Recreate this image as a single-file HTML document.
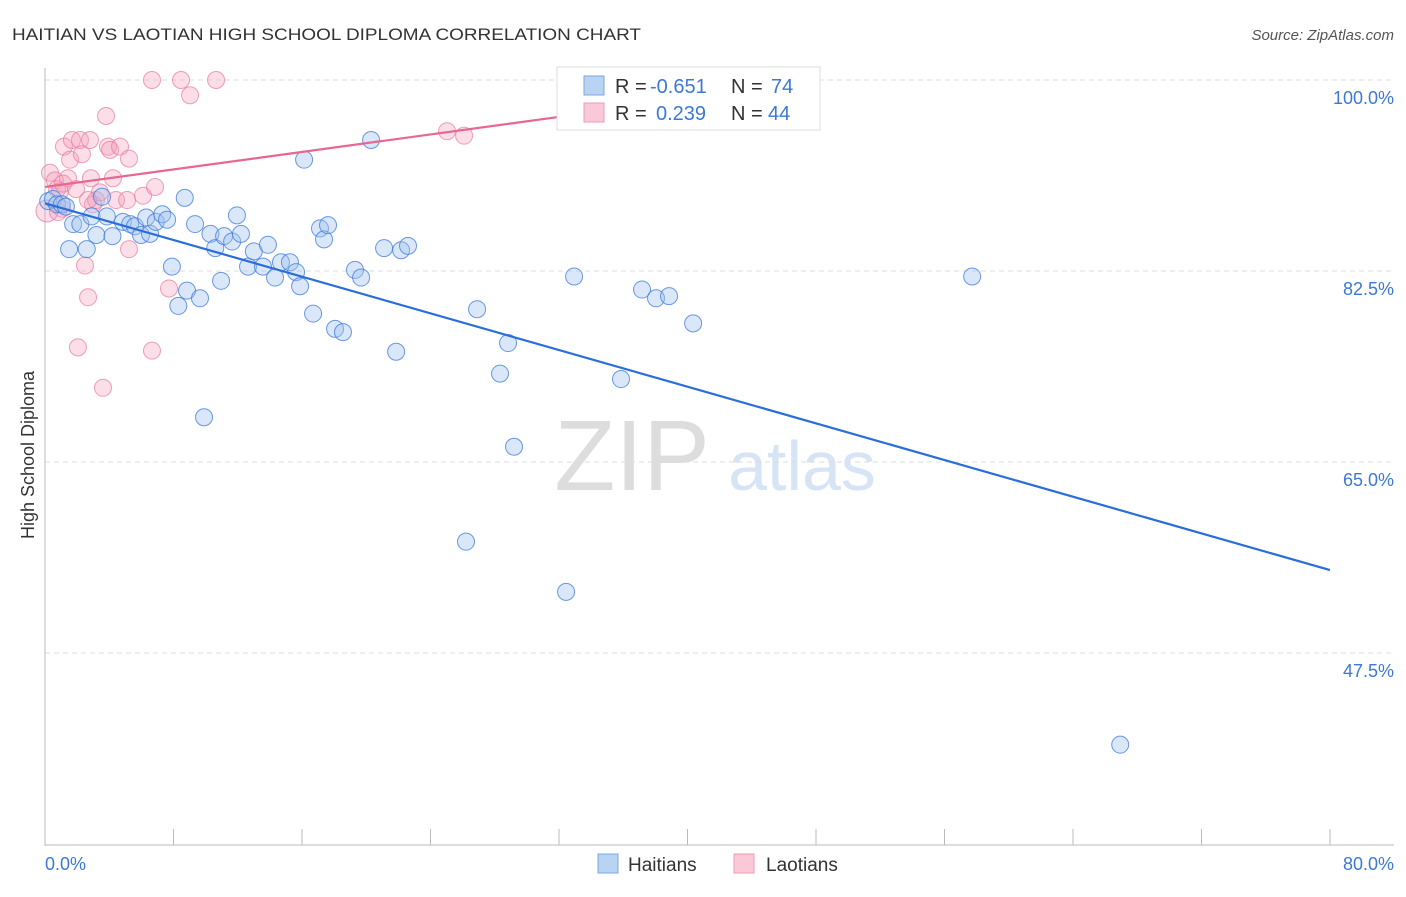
<!DOCTYPE html>
<html><head><meta charset="utf-8"><style>
body{margin:0;background:#fff;font-family:"Liberation Sans",sans-serif}
svg text{font-family:"Liberation Sans",sans-serif}
</style></head><body>
<svg id="chart" width="1406" height="892">
<text x="12" y="40" font-size="17" fill="#333" textLength="629" lengthAdjust="spacingAndGlyphs">HAITIAN VS LAOTIAN HIGH SCHOOL DIPLOMA CORRELATION CHART</text>
<text x="1394" y="40" font-size="15" fill="#555" font-style="italic" text-anchor="end">Source: ZipAtlas.com</text>
<text x="632" y="490" font-size="100" fill="#ddd" font-family="Liberation Serif" text-anchor="middle">ZIP</text>
<text x="802" y="490" font-size="70" fill="#d6e4f5" text-anchor="middle">atlas</text>
<g id="grid"></g><g id="axes"></g><g id="pts"></g><g id="lines"></g>
<text transform="translate(34,455) rotate(-90)" font-size="18" fill="#333" text-anchor="middle">High School Diploma</text>
<text x="45" y="870" font-size="18" fill="#3c78d8">0.0%</text>
<text x="1394" y="870" font-size="18" fill="#3c78d8" text-anchor="end">80.0%</text>
<g>
<rect x="557" y="67" width="263" height="63" fill="#fff" stroke="#ddd"/>
<rect x="584" y="76" width="20" height="19" fill="#b9d3f3" stroke="#7aa7e3"/>
<rect x="584" y="103" width="20" height="19" fill="#f9c9d8" stroke="#ef9bb6"/>
<text x="615" y="93" font-size="20" fill="#333">R = <tspan fill="#3c78d8" x="650">-0.651</tspan><tspan x="731">N = </tspan><tspan fill="#3c78d8" x="771">74</tspan></text>
<text x="615" y="120" font-size="20" fill="#333">R = <tspan fill="#3c78d8" x="656">0.239</tspan><tspan x="731">N = </tspan><tspan fill="#3c78d8" x="768">44</tspan></text>
</g>
<g>
<rect x="598" y="854" width="20" height="19" fill="#b9d3f3" stroke="#7aa7e3"/>
<text x="628" y="871" font-size="19" fill="#333">Haitians</text>
<rect x="734" y="854" width="20" height="19" fill="#f9c9d8" stroke="#ef9bb6"/>
<text x="766" y="871" font-size="19" fill="#333">Laotians</text>
</g>
</svg>
<script>
const yTicks=[100,82.5,65,47.5];
const yTickLabels=["100.0%","82.5%","65.0%","47.5%"];
const xTicks=[0,8,16,24,32,40,48,56,64,72,80];
const haitianX=[0.2,0.5,0.75,1.05,1.3,1.5,1.75,2.2,2.6,2.9,3.2,3.55,3.85,4.2,4.85,5.3,5.6,5.98,6.3,6.54,6.9,7.3,7.6,7.9,8.3,8.7,8.84,9.34,9.65,9.9,10.3,10.6,10.96,11.15,11.65,11.95,12.2,12.64,13.0,13.57,13.88,14.32,14.69,15.25,15.63,15.88,16.13,16.69,17.12,17.37,17.62,18.06,18.55,19.3,19.68,20.3,21.11,21.86,22.17,22.6,26.21,26.9,28.33,28.83,29.2,32.44,32.94,35.86,37.17,38.04,38.85,40.35,57.72,66.94];
const haitianY=[88.9,89.1,88.6,88.6,88.4,84.5,86.8,86.8,84.5,87.5,85.8,89.3,87.5,85.7,87.0,86.8,86.6,85.8,87.4,85.9,87.0,87.7,87.2,82.9,79.3,89.2,80.7,86.8,80.0,69.1,85.9,84.6,81.6,85.7,85.2,87.6,85.9,82.9,84.3,82.9,84.9,81.9,83.3,83.3,82.4,81.1,92.7,78.6,86.4,85.4,86.7,77.2,76.9,82.6,81.9,94.5,84.6,75.1,84.4,84.8,57.7,79.0,73.1,75.9,66.4,53.1,82.0,72.6,80.8,80.0,80.2,77.7,82.0,39.1];
const laotianX=[0.12,0.31,0.62,0.75,0.93,1.06,1.18,1.43,1.56,1.68,1.93,2.18,2.3,2.49,2.68,2.8,2.86,2.99,3.18,2.05,3.61,3.8,3.92,4.05,4.23,4.42,4.67,5.11,5.23,5.23,6.1,6.66,6.66,6.85,7.72,8.47,9.03,10.65,25.03,26.09,1.12,3.42,0.81,2.68];
const laotianY=[88.0,91.5,90.8,90.0,89.8,88.2,93.9,91.0,92.7,94.5,90.0,94.5,93.2,83.0,80.1,94.5,91.0,88.6,89.0,75.5,71.8,96.7,93.9,93.6,91.0,89.0,93.9,89.0,92.8,84.5,89.4,100,75.2,90.2,80.9,100,98.6,100,95.3,94.9,90.5,89.7,87.9,89.0];
const regB=[88.7,55.1], regP=[90.2,97.7], regPsolidEnd=37.4, regPdashEnd=39.3;
const NS="http://www.w3.org/2000/svg";
const X0=45,X1=1330,Y100=80,PXPER=191/17.5;
const sx=v=>X0+(v/80)*(X1-X0);
const sy=v=>Y100+(100-v)*PXPER;
function mk(tag,attrs,parent){const e=document.createElementNS(NS,tag);for(const k in attrs)e.setAttribute(k,attrs[k]);parent.appendChild(e);return e;}
const grid=document.getElementById('grid'),axes=document.getElementById('axes'),pts=document.getElementById('pts'),lines=document.getElementById('lines');
yTicks.forEach((t,i)=>{
 const l=mk('line',{x1:45,x2:1394,y1:sy(t),y2:sy(t),stroke:'#ddd','stroke-dasharray':'5,4'},grid);
 
 
 const tx=mk('text',{x:1394,y:sy(t)+24,'font-size':18,fill:'#3c78d8','text-anchor':'end'},grid);
 tx.textContent=yTickLabels[i];
 
 
});
const ya=mk('line',{x1:45,x2:45,y1:68,y2:846,stroke:'#bbb'},axes);


const xa=mk('line',{x1:45,x2:1394,y1:845,y2:845,stroke:'#bbb'},axes);


xTicks.forEach(t=>{
 const l=mk('line',{x1:sx(t),x2:sx(t),y1:829,y2:845,stroke:'#bbb'},axes);
 
 
});
laotianX.forEach((x,i)=>{
 const c=mk('circle',{cx:sx(x),cy:sy(laotianY[i]),r:i==0?11:8.5,fill:'rgba(244,160,189,0.35)',stroke:'rgba(232,120,158,0.7)','stroke-width':1},pts);
 
 
});
haitianX.forEach((x,i)=>{
 const c=mk('circle',{cx:sx(x),cy:sy(haitianY[i]),r:8.5,fill:'rgba(160,196,240,0.4)',stroke:'rgba(60,120,216,0.75)','stroke-width':1},pts);
 
 
});
const bl=mk('line',{x1:sx(0),y1:sy(regB[0]),x2:sx(80),y2:sy(regB[1]),stroke:'#2a6fd6','stroke-width':2.2},lines);


const pAt=x=>regP[0]+(regP[1]-regP[0])*x/regPsolidEnd;
const pl=mk('line',{x1:sx(0),y1:sy(regP[0]),x2:sx(regPsolidEnd),y2:sy(regP[1]),stroke:'#e8678f','stroke-width':2.2},lines);


const pd=mk('line',{x1:sx(regPsolidEnd),y1:sy(regP[1]),x2:sx(regPdashEnd),y2:sy(pAt(regPdashEnd)),stroke:'#f2a5bd','stroke-width':1.5,'stroke-dasharray':'4,3'},lines);


</script>
</body></html>
